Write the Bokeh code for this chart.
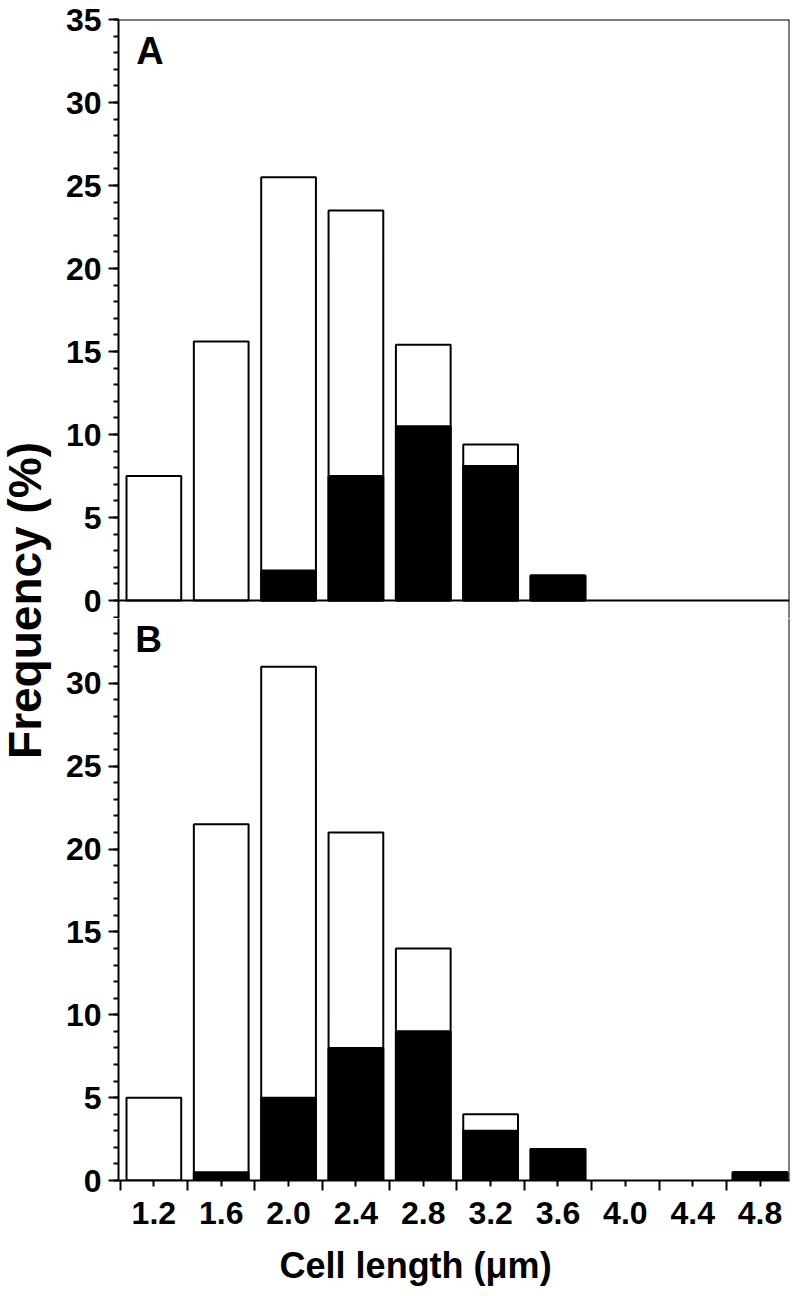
from math import pi
from bokeh.plotting import figure
from bokeh.layouts import row, column
from bokeh.models import Range1d, FixedTicker, Span, Label
from bokeh.embed import file_html
from bokeh.resources import INLINE

# ---------------- data ----------------
bin_centers = [1.2, 1.6, 2.0, 2.4, 2.8, 3.2, 3.6, 4.0, 4.4, 4.8]
bin_labels = ["1.2", "1.6", "2.0", "2.4", "2.8", "3.2", "3.6", "4.0", "4.4", "4.8"]
bin_edges = [1.0, 1.4, 1.8, 2.2, 2.6, 3.0, 3.4, 3.8, 4.2, 4.6]

# panel A: total bar height (open) and filled (black) part
a_total = [7.5, 15.6, 25.5, 23.5, 15.4, 9.4, 1.5, 0, 0, 0]
a_filled = [0, 0, 1.8, 7.5, 10.5, 8.1, 1.5, 0, 0, 0]
# panel B
b_total = [5.0, 21.5, 31.0, 21.0, 14.0, 4.0, 1.9, 0, 0, 0.5]
b_filled = [0, 0.5, 5.0, 8.0, 9.0, 3.0, 1.9, 0, 0, 0.5]

y_major_a = [0, 5, 10, 15, 20, 25, 30, 35]
y_major_b = [0, 5, 10, 15, 20, 25, 30]
y_minor = list(range(0, 36))

panel_a_label = "A"
panel_b_label = "B"
x_title = "Cell length (\u03bcm)"
y_title = "Frequency (%)"

# ---------------- style ----------------
FONT = "Liberation Sans"
X_START, X_END = 0.99, 4.975
Y_TOP = 35
BAR_W = 0.325
LW = 2
PX_A = 16.6      # pixels per unit, panel A
PX_B = 16.57     # pixels per unit, panel B
OVERLAP = 18     # px of panel B drawn inside the top figure
FRAME_W = 671
FRAME_H_A = 581 + OVERLAP
FRAME_H_B = 580 - OVERLAP
BOT_BORDER = 60
TITLE_H = 54
FIG_W = 60 + FRAME_W + 3
TOTAL_H = 19 + FRAME_H_A + FRAME_H_B + BOT_BORDER + TITLE_H


def style_yaxis(p, majors, minors):
    ax = p.yaxis[0]
    ax.ticker = FixedTicker(ticks=majors, minor_ticks=minors)
    ax.axis_line_width = LW
    ax.major_tick_line_width = LW
    ax.minor_tick_line_width = LW
    ax.major_tick_in = 0
    ax.major_tick_out = 10
    ax.minor_tick_in = 0
    ax.minor_tick_out = 5
    ax.major_label_text_font = FONT
    ax.major_label_text_font_style = "bold"
    ax.major_label_text_font_size = "32px"
    ax.major_label_text_color = "black"
    ax.major_label_standoff = 7
    ax.axis_line_color = "black"
    ax.major_tick_line_color = "black"
    ax.minor_tick_line_color = "black"


def draw_bars(p, total, filled):
    xs_t = [x for x, t in zip(bin_centers, total) if t > 0]
    ts = [t for t in total if t > 0]
    xs_f = [x for x, f in zip(bin_centers, filled) if f > 0]
    fs = [f for f in filled if f > 0]
    p.vbar(x=xs_t, width=BAR_W, top=ts, bottom=0,
           fill_color="white", line_color="black", line_width=LW)
    p.vbar(x=xs_f, width=BAR_W, top=fs, bottom=0,
           fill_color="black", line_color="black", line_width=LW)


# ---------------- top panel (A) ----------------
top = figure(frame_width=FRAME_W, frame_height=FRAME_H_A,
             x_range=Range1d(X_START, X_END),
             y_range=Range1d(-OVERLAP / PX_A, Y_TOP),
             x_axis_location=None, toolbar_location=None, output_backend="svg",
             min_border_left=60, min_border_right=3, min_border_top=19,
             min_border_bottom=0)
top.grid.visible = False
top.outline_line_color = None
# minor tick of panel B (at 34) that falls inside the overlap strip
top_minors = y_minor + [t - Y_TOP for t in y_minor if t - Y_TOP >= -OVERLAP / PX_A]
style_yaxis(top, y_major_a, top_minors)
draw_bars(top, a_total, a_filled)
top.add_layout(Span(location=Y_TOP, dimension="width", line_color="black", line_width=LW))
top.add_layout(Span(location=0, dimension="width", line_color="black", line_width=LW))
top.add_layout(Span(location=X_END, dimension="height", line_color="black", line_width=LW))
top.add_layout(Label(x=1.095, y=33.13, text=panel_a_label, text_font=FONT,
                     text_font_style="bold", text_font_size="38px",
                     text_baseline="middle", text_color="black"))

# ---------------- bottom panel (B) ----------------
bot = figure(frame_width=FRAME_W, frame_height=FRAME_H_B,
             x_range=Range1d(X_START, X_END),
             y_range=Range1d(0, Y_TOP - OVERLAP / PX_B),
             toolbar_location=None, output_backend="svg",
             min_border_left=60, min_border_right=3, min_border_top=0,
             min_border_bottom=BOT_BORDER)
bot.grid.visible = False
bot.outline_line_color = None
style_yaxis(bot, y_major_b, y_minor)
xa = bot.xaxis[0]
xa.ticker = FixedTicker(ticks=bin_centers, minor_ticks=bin_edges)
xa.major_label_overrides = {c: l for c, l in zip(bin_centers, bin_labels)}
xa.axis_line_width = LW
xa.major_tick_line_width = LW
xa.minor_tick_line_width = LW
xa.major_tick_in = 0
xa.major_tick_out = 6
xa.minor_tick_in = 0
xa.minor_tick_out = 10
xa.major_label_text_font = FONT
xa.major_label_text_font_style = "bold"
xa.major_label_text_font_size = "32px"
xa.major_label_text_color = "black"
xa.major_label_standoff = 11
draw_bars(bot, b_total, b_filled)
bot.add_layout(Span(location=X_END, dimension="height", line_color="black", line_width=LW))
y_b_top = Y_TOP - OVERLAP / PX_B
bot.add_layout(Label(x=1.09, y=y_b_top - 0.03, text=panel_b_label, text_font=FONT,
                     text_font_style="bold", text_font_size="37px",
                     text_baseline="top", text_color="black"))

# ---------------- x-axis title strip ----------------
xt = figure(width=FIG_W, height=TITLE_H, x_range=Range1d(0, FIG_W), y_range=Range1d(0, TITLE_H),
            toolbar_location=None, output_backend="svg",
            min_border=0, x_axis_location=None, y_axis_location=None)
xt.grid.visible = False
xt.outline_line_color = None
xt.add_layout(Label(x=325, y=TITLE_H - 25, text=x_title, text_font=FONT,
                    text_font_style="bold", text_font_size="36px",
                    text_align="center", text_baseline="middle", text_color="black"))

# ---------------- shared y-axis title ----------------
lab = figure(width=58, height=TOTAL_H, x_range=Range1d(0, 58), y_range=Range1d(0, TOTAL_H),
             toolbar_location=None, output_backend="svg",
             min_border=0, x_axis_location=None, y_axis_location=None)
lab.grid.visible = False
lab.outline_line_color = None
lab.add_layout(Label(x=24, y=TOTAL_H - 600, text=y_title, angle=pi / 2, text_font=FONT,
                     text_font_style="bold", text_font_size="46px",
                     text_align="center", text_baseline="middle", text_color="black"))

layout = row(lab, column(top, bot, xt))

open("out.html", "w").write(file_html(layout, INLINE))
